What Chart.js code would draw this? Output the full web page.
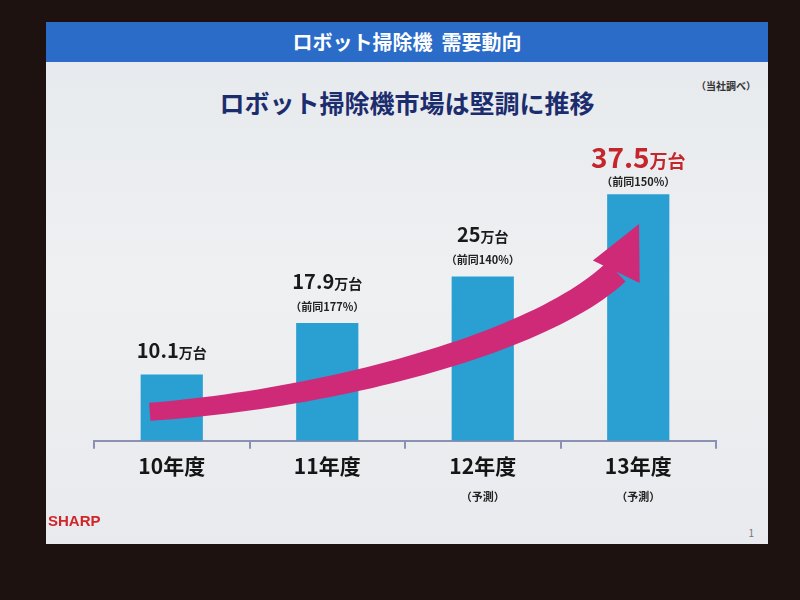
<!DOCTYPE html>
<html>
<head>
<meta charset="utf-8">
<script src="https://cdn.jsdelivr.net/npm/chart.js@4"></script>
<style>
  html, body { margin: 0; padding: 0; }
  body { width: 800px; height: 600px; background: #1d1210; position: relative; overflow: hidden;
         font-family: "Noto Sans CJK JP", "Noto Sans", sans-serif; }
  #slide { position: absolute; left: 46px; top: 22px; width: 722px; height: 522px;
           background: linear-gradient(180deg, #e6e9ed 0%, #eef0f2 50%, #e8eaed 100%); }
  #band { position: absolute; left: 0; top: 0; width: 100%; height: 40px; background: #2a6cc8;
          color: #fff; font-weight: bold; font-size: 20px; line-height: 40px; text-align: center; }
  #sub { position: absolute; left: 0; top: 62px; width: 100%; text-align: center; color: #1c2d6e;
         font-weight: bold; font-size: 25px; }
  #src { position: absolute; right: 12px; top: 56px; color: #333; font-weight: bold; font-size: 10px; }
  #logo { position: absolute; left: 2px; top: 490px; color: #d0262a; font-family: "Liberation Sans", sans-serif;
          font-weight: bold; font-size: 15px; }
  #page { position: absolute; right: 14px; top: 503px; color: #777; font-size: 10px; }
  #wrap { position: absolute; left: 0; top: 90px; width: 722px; height: 410px; }
</style>
</head>
<body>
<div id="slide">
  <div id="band">ロボット掃除機&nbsp;&nbsp;需要動向</div>
  <div id="src">（当社調べ）</div>
  <div id="sub">ロボット掃除機市場は堅調に推移</div>
  <div id="wrap"><canvas id="chart" width="722" height="410"></canvas></div>
  <div id="logo">SHARP</div>
  <div id="page">1</div>
</div>
<script>
'use strict';

var categories = ['10年度', '11年度', '12年度', '13年度'];
var units = [10.1, 17.9, 25, 37.5];            // 万台
var valueLabels = ['10.1', '17.9', '25', '37.5'];
var growthLabels = ['', '（前同177%）', '（前同140%）', '（前同150%）'];
var forecastNotes = ['', '', '（予測）', '（予測）'];

var FONT = '"Noto Sans CJK JP", "Noto Sans", sans-serif';

// value labels above bars + (予測) under the axis labels
var labelPlugin = {
  id: 'slideLabels',
  afterDatasetsDraw: function(chart) {
    var ctx = chart.ctx;
    var meta = chart.getDatasetMeta(0);
    var xScale = chart.scales.x;
    ctx.save();
    ctx.textBaseline = 'alphabetic';
    meta.data.forEach(function(bar, i) {
      var last = i === units.length - 1;
      var big = last ? 28 : 20;
      var small = last ? 18 : 14;
      var color = last ? '#c4262c' : '#1a1a1a';
      var hasSub = growthLabels[i] !== '';
      var baseY = bar.y - (hasSub ? (last ? 26 : 34) : 16);

      ctx.font = 'bold ' + big + 'px ' + FONT;
      var w1 = ctx.measureText(valueLabels[i]).width;
      ctx.font = 'bold ' + small + 'px ' + FONT;
      var w2 = ctx.measureText('万台').width;
      var x0 = bar.x - (w1 + w2) / 2;
      ctx.fillStyle = color;
      ctx.textAlign = 'left';
      ctx.font = 'bold ' + big + 'px ' + FONT;
      ctx.fillText(valueLabels[i], x0, baseY);
      ctx.font = 'bold ' + small + 'px ' + FONT;
      ctx.fillText('万台', x0 + w1, baseY);

      if (hasSub) {
        ctx.fillStyle = '#222';
        ctx.textAlign = 'center';
        ctx.font = 'bold 11px ' + FONT;
        ctx.fillText(growthLabels[i], bar.x, bar.y - (last ? 8 : 12));
      }
      if (forecastNotes[i]) {
        ctx.fillStyle = '#222';
        ctx.textAlign = 'center';
        ctx.font = 'bold 11px ' + FONT;
        ctx.fillText(forecastNotes[i], xScale.getPixelForValue(i), xScale.bottom + 17);
      }
    });
    ctx.restore();
  }
};

// magenta growth arrow drawn over the bars
var arrowPlugin = {
  id: 'growthArrow',
  afterDatasetsDraw: function(chart) {
    var ctx = chart.ctx;
    var meta = chart.getDatasetMeta(0);
    var y0 = chart.scales.y.getPixelForValue(0);
    var first = meta.data[0], last = meta.data[meta.data.length - 1];
    var p0 = { x: first.x - 22, y: y0 - 29 };
    var c1 = { x: first.x + 156, y: y0 - 42 };
    var c2 = { x: last.x - 98, y: y0 - 97 };
    var p3 = { x: last.x - 22, y: y0 - 169 };

    function pt(t) {
      var u = 1 - t;
      var a = u * u * u, b = 3 * u * u * t, c = 3 * u * t * t, d = t * t * t;
      return { x: a * p0.x + b * c1.x + c * c2.x + d * p3.x, y: a * p0.y + b * c1.y + c * c2.y + d * p3.y };
    }
    function tan(t) {
      var u = 1 - t;
      var dx = 3 * u * u * (c1.x - p0.x) + 6 * u * t * (c2.x - c1.x) + 3 * t * t * (p3.x - c2.x);
      var dy = 3 * u * u * (c1.y - p0.y) + 6 * u * t * (c2.y - c1.y) + 3 * t * t * (p3.y - c2.y);
      var l = Math.sqrt(dx * dx + dy * dy);
      return { x: dx / l, y: dy / l };
    }
    var top = [], bot = [];
    for (var k = 0; k <= 50; k++) {
      var t = k / 50;
      var p = pt(t), d = tan(t), w = (18 + 9 * t) / 2;
      top.push({ x: p.x + d.y * w, y: p.y - d.x * w });
      bot.push({ x: p.x - d.y * w, y: p.y + d.x * w });
    }
    ctx.save();
    ctx.fillStyle = '#cf2a78';
    ctx.beginPath();
    ctx.moveTo(top[0].x, top[0].y);
    top.forEach(function(q) { ctx.lineTo(q.x, q.y); });
    for (var j = bot.length - 1; j >= 0; j--) ctx.lineTo(bot[j].x, bot[j].y);
    ctx.closePath();
    ctx.fill();

    // head, tilted a bit steeper than the shaft
    var hd = { x: 0.43, y: -0.9 }, hw = 26, hl = 53;
    ctx.beginPath();
    ctx.moveTo(p3.x + hd.x * hl, p3.y + hd.y * hl);
    ctx.lineTo(p3.x - hd.y * hw, p3.y + hd.x * hw);
    ctx.lineTo(p3.x + hd.y * hw, p3.y - hd.x * hw);
    ctx.closePath();
    ctx.fill();
    ctx.restore();
  }
};

var ctx = document.getElementById('chart').getContext('2d');
var myChart = new Chart(ctx, {
  type: 'bar',
  data: {
    labels: categories,
    datasets: [{
      data: units,
      backgroundColor: '#2a9fd2',
      borderWidth: 0,
      barPercentage: 0.4,
      categoryPercentage: 1
    }]
  },
  options: {
    responsive: false,
    animation: false,
    layout: { padding: { left: 48, right: 52, top: 0, bottom: 38 } },
    plugins: { legend: { display: false }, tooltip: { enabled: false }, title: { display: false } },
    scales: {
      x: {
        grid: { offset: true, drawOnChartArea: false, drawTicks: true, tickLength: 8, color: '#8c90b2', lineWidth: 2 },
        border: { display: true, color: '#8c90b2', width: 2 },
        ticks: { color: '#151515', padding: 5, font: { family: FONT, size: 21, weight: 'bold' } }
      },
      y: {
        display: false,
        min: 0,
        max: 50
      }
    }
  },
  plugins: [labelPlugin, arrowPlugin]
});
</script>
</body>
</html>
